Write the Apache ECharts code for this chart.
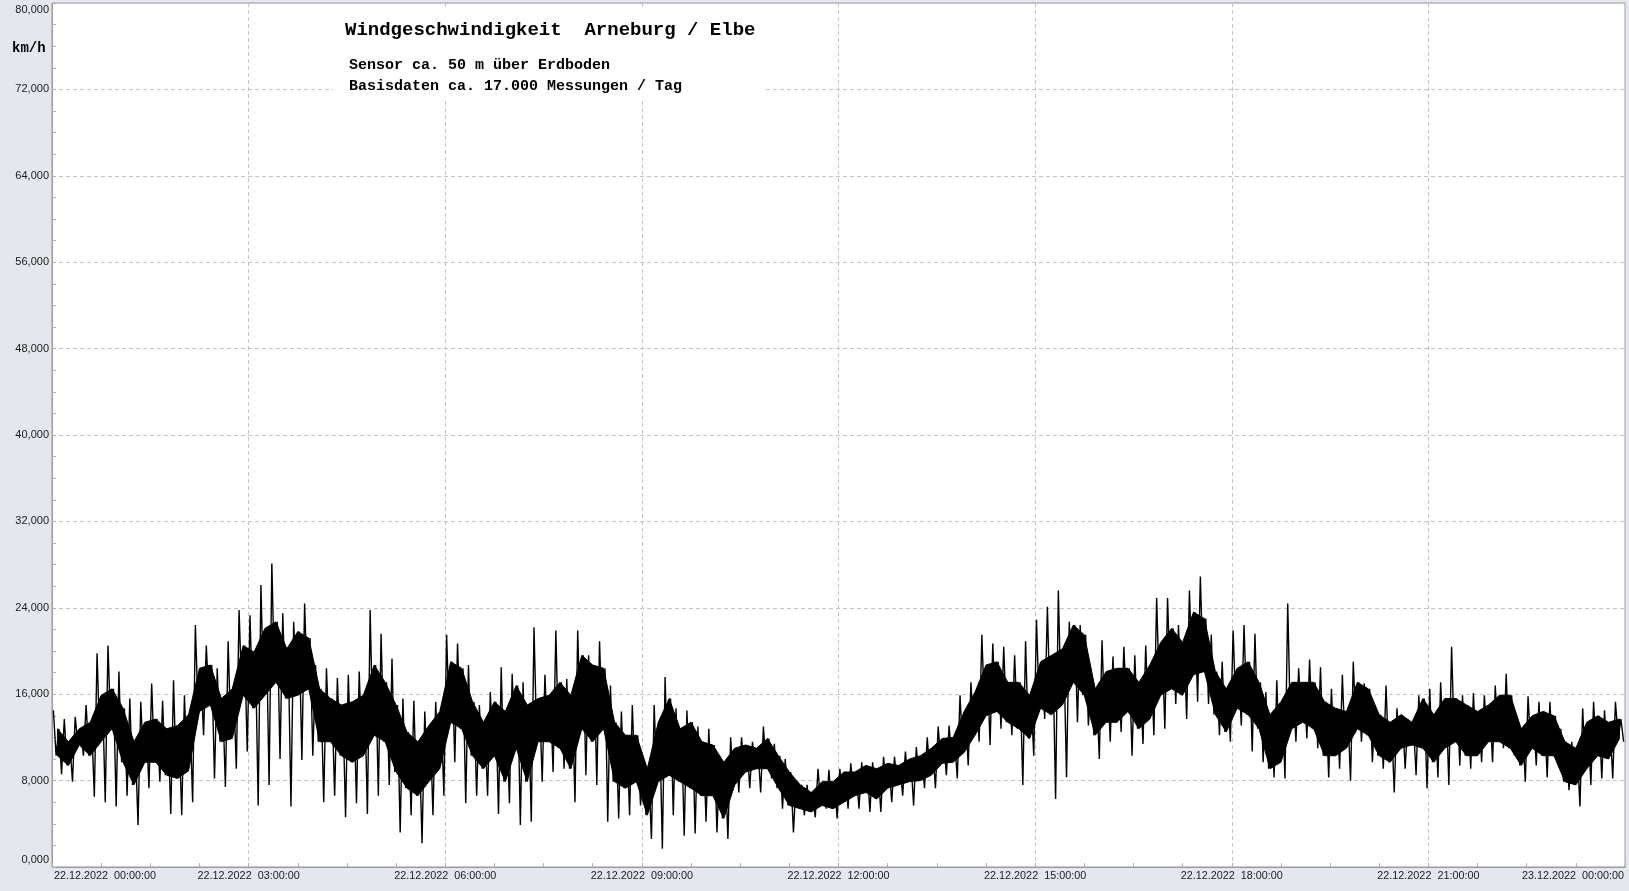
<!DOCTYPE html>
<html>
<head>
<meta charset="utf-8">
<script src="https://cdn.jsdelivr.net/npm/echarts@6/dist/echarts.min.js"></script>
<style>
html,body{margin:0;padding:0;background:#e4e7ee;}
#chart{width:1629px;height:891px;}
</style>
</head>
<body>
<div id="chart"></div>
<script>
// 10-minute slots over 22.12.2022 00:00 .. 23.12.2022 00:00 (km/h)
const slotMinutes = 10;
const peakHigh = [
14.5,13.7,13.9,15.0,19.8,20.5,18.1,15.6,15.3,17.0,15.4,17.3,15.9,22.4,20.5,18.4,20.9,23.8,23.3,26.1,28.1,23.5,22.7,24.4,18.7,18.4,17.5,17.8,18.1,
23.8,21.6,19.3,15.6,15.4,14.4,15.3,21.5,20.7,18.7,15.0,16.2,18.5,17.9,17.1,22.2,17.8,21.9,17.4,21.9,19.6,20.9,16.8,14.4,15.0,10.0,15.0,17.6,14.7,
14.5,13.0,12.8,10.3,12.0,12.0,11.6,13.0,11.4,10.0,8.0,7.6,9.1,9.0,9.1,9.6,9.7,9.7,10.2,10.2,10.7,11.1,12.0,13.0,13.1,15.9,17.1,21.5,20.7,
20.4,19.6,20.9,22.9,24.1,25.6,22.7,22.4,17.8,21.0,19.5,20.4,19.6,20.5,24.9,24.9,22.4,25.6,26.9,21.5,19.0,21.9,22.4,21.6,16.2,17.3,24.4,18.4,19.2,
18.5,16.5,17.8,19.0,17.0,15.0,16.8,14.7,13.7,15.9,16.5,17.1,20.4,15.9,16.1,15.9,16.8,17.9,13.7,15.8,15.3,15.3,12.8,11.6,14.7,15.3,14.5,15.3
];
const peakLow = [
8.6,7.9,10.3,6.5,6.0,5.6,6.6,3.9,7.3,7.9,4.9,4.8,6.0,12.2,8.2,7.4,9.1,10.7,5.7,7.6,10.0,5.6,9.9,10.3,6.0,6.6,4.6,5.9,4.9,
6.6,7.6,3.2,4.8,2.2,4.8,6.6,9.7,5.9,6.6,6.6,4.9,5.9,3.9,4.2,7.9,8.8,9.1,6.0,8.5,7.6,4.2,4.5,4.8,5.7,2.6,1.7,4.8,2.9,
3.1,4.2,3.2,2.6,6.9,7.3,6.9,8.2,5.4,3.2,4.8,4.6,5.4,4.5,5.4,5.4,5.1,5.1,6.0,6.6,5.7,7.3,7.3,8.5,8.2,9.4,11.6,11.3,12.8,
12.2,7.6,10.3,13.7,6.3,8.3,13.4,13.1,10.0,11.6,12.5,10.3,11.4,12.2,12.8,15.1,13.7,15.3,15.1,12.2,11.6,13.1,10.7,9.7,8.3,8.2,11.6,11.9,11.0,
8.3,9.1,8.0,11.6,9.7,9.1,6.9,9.1,8.5,7.3,8.3,7.6,9.4,9.1,9.7,9.7,11.0,10.3,7.9,9.4,8.3,9.7,7.1,5.6,7.6,8.2,8.2,11.6
];
const coreHigh = [
12.8,11.6,12.8,13.4,15.9,16.5,14.7,11.6,13.4,13.7,12.8,13.1,14.1,18.4,18.7,15.6,16.5,20.5,19.9,22.1,22.7,20.2,21.8,21.2,16.5,15.6,15.0,15.3,15.9,
18.7,17.1,15.0,12.5,11.6,13.1,14.4,19.0,18.4,15.3,13.4,15.3,14.4,16.8,15.0,15.6,15.9,17.1,15.9,19.6,18.7,18.4,13.4,12.2,12.2,9.1,13.4,15.6,12.8,
13.4,11.6,11.3,9.7,11.0,11.3,11.0,11.9,10.3,8.8,7.6,6.9,7.9,7.9,8.8,8.8,9.4,9.1,9.6,9.4,10.0,10.3,11.0,11.9,12.0,14.4,16.2,18.7,19.0,
17.1,17.1,15.9,19.0,19.6,20.2,22.4,21.5,16.5,18.1,18.4,18.4,17.1,18.7,20.8,22.1,20.8,23.6,23.0,18.1,16.5,18.4,19.0,17.1,14.1,15.3,17.1,17.1,17.1,
15.3,14.7,14.4,17.1,16.5,14.1,13.4,14.1,13.4,15.6,14.1,15.6,15.6,15.0,14.4,15.0,15.9,15.9,12.8,14.0,14.4,14.0,11.6,11.0,13.4,14.0,13.4,13.7
];
const coreLow = [
10.3,9.4,11.3,10.3,11.6,12.8,9.7,7.6,9.7,9.7,8.5,8.2,8.9,14.4,15.0,11.6,11.9,15.9,14.7,15.9,17.1,15.6,15.9,16.5,11.6,11.6,10.3,9.7,10.3,
12.2,11.6,8.8,7.3,6.6,7.9,9.1,13.4,12.8,10.3,9.1,10.3,7.9,11.0,7.9,11.6,11.6,11.0,9.1,12.8,11.6,12.8,7.9,7.3,7.9,4.8,7.9,8.5,7.9,
7.3,6.6,6.6,4.5,7.6,8.8,9.1,9.1,7.3,5.7,5.4,5.1,5.7,5.4,6.0,6.6,6.9,6.3,7.3,7.6,7.9,8.0,8.5,9.6,9.7,10.6,12.2,14.0,14.4,
13.4,12.8,11.9,14.7,14.1,15.0,17.1,15.9,12.2,13.4,13.4,14.4,12.8,13.7,15.9,16.5,15.9,17.8,18.1,14.1,12.5,14.7,14.1,12.8,9.1,9.7,12.8,13.4,12.8,
10.3,10.3,11.0,12.8,12.2,10.3,9.7,11.0,11.3,11.0,9.7,11.0,11.6,10.3,10.3,11.6,11.6,11.0,9.4,11.0,10.3,10.3,7.9,7.6,9.1,10.3,10.0,11.9
];
const xTickLabels = [
'22.12.2022  00:00:00','22.12.2022  03:00:00','22.12.2022  06:00:00','22.12.2022  09:00:00',
'22.12.2022  12:00:00','22.12.2022  15:00:00','22.12.2022  18:00:00','22.12.2022  21:00:00','23.12.2022  00:00:00'
];
const yTickLabels = ['0,000','8,000','16,000','24,000','32,000','40,000','48,000','56,000','64,000','72,000','80,000'];
const titleText = 'Windgeschwindigkeit  Arneburg / Elbe';
const subText1 = 'Sensor ca. 50 m über Erdboden';
const subText2 = 'Basisdaten ca. 17.000 Messungen / Tag';
const unitText = 'km/h';

const h = slotMinutes / 60;
// trace through each slot: peak high, core low, core high, peak low
const trace = [];
for (let i = 0; i < peakHigh.length; i++) {
  const t = i * h;
  trace.push([t + h * 0.125, peakHigh[i]]);
  trace.push([t + h * 0.375, coreLow[i]]);
  trace.push([t + h * 0.625, coreHigh[i]]);
  trace.push([t + h * 0.875, peakLow[i]]);
}

function renderCore(params, api) {
  const pts = [];
  for (let i = 0; i < coreHigh.length; i++) pts.push(api.coord([i * h + h * 0.5, coreHigh[i]]));
  for (let i = coreLow.length - 1; i >= 0; i--) pts.push(api.coord([i * h + h * 0.5, coreLow[i]]));
  return {type: 'polygon', shape: {points: pts}, style: {fill: '#000', stroke: '#000', lineWidth: 1}};
}

const chart = echarts.init(document.getElementById('chart'), null, {renderer: 'canvas'});
const lblFont = '"Liberation Sans", Arial, sans-serif';
const monoFont = '"Liberation Mono", "Courier New", monospace';
chart.setOption({
  animation: false,
  backgroundColor: '#e4e7ee',
  grid: {left: 52, right: 4, top: 3, bottom: 24, show: true, backgroundColor: '#ffffff', borderColor: '#9a9a9a', borderWidth: 1},
  xAxis: {
    type: 'value', min: 0, max: 24, interval: 3,
    axisLine: {show: true, lineStyle: {color: '#9a9a9a'}},
    axisTick: {show: true, inside: true, length: 4, lineStyle: {color: '#b0b0b0'}},
    minorTick: {show: true, splitNumber: 4, length: 4, lineStyle: {color: '#b0b0b0'}},
    splitLine: {show: true, lineStyle: {color: '#c4c4c4', type: [4, 3], width: 1}},
    axisLabel: {
      margin: 4, fontSize: 10.8, color: '#1a1a1a', fontFamily: lblFont,
      formatter: function (v) {
        const idx = Math.round(v / 3);
        const s = xTickLabels[idx];
        if (idx === 0) return '{first|' + s + '}';
        if (idx === xTickLabels.length - 1) return '{last|' + s + '}';
        return s;
      },
      rich: {
        first: {fontSize: 10.8, color: '#1a1a1a', fontFamily: lblFont, padding: [0, 0, 0, 106]},
        last: {fontSize: 10.8, color: '#1a1a1a', fontFamily: lblFont, padding: [0, 104, 0, 0]}
      }
    }
  },
  yAxis: {
    type: 'value', min: 0, max: 80, interval: 8,
    axisLine: {show: true, lineStyle: {color: '#9a9a9a'}},
    axisTick: {show: true, inside: true, length: 4, lineStyle: {color: '#b0b0b0'}},
    minorTick: {show: true, splitNumber: 4, length: 4, lineStyle: {color: '#b0b0b0'}},
    splitLine: {show: true, lineStyle: {color: '#c4c4c4', type: [4, 3], width: 1}},
    axisLabel: {
      margin: 3, fontSize: 11, color: '#1a1a1a', fontFamily: lblFont,
      formatter: function (v) {
        const idx = Math.round(v / 8);
        const s = yTickLabels[idx];
        if (idx === yTickLabels.length - 1) return '{top|' + s + '}';
        if (idx === 0) return '{bot|' + s + '}';
        return s;
      },
      rich: {
        top: {fontSize: 11, color: '#1a1a1a', fontFamily: lblFont, padding: [14, 0, 0, 0]},
        bot: {fontSize: 11, color: '#1a1a1a', fontFamily: lblFont, padding: [0, 0, 14, 0]}
      }
    }
  },
  series: [
    {type: 'custom', name: 'core', coordinateSystem: 'cartesian2d', renderItem: renderCore,
     data: [[0, 0]], silent: true, clip: true, z: 2},
    {type: 'line', name: 'Wind', data: trace, symbol: 'none', silent: true,
     lineStyle: {width: 1.4, color: '#000'}, z: 3}
  ],
  graphic: [
    {type: 'rect', left: 333, top: 10, shape: {width: 432, height: 88}, style: {fill: '#ffffff'}, z: 5, silent: true},
    {type: 'text', left: 345, top: 21, style: {text: titleText, font: 'bold 19px ' + monoFont, fill: '#000'}, z: 6},
    {type: 'text', left: 349, top: 58, style: {text: subText1, font: 'bold 15px ' + monoFont, fill: '#000'}, z: 6},
    {type: 'text', left: 349, top: 79, style: {text: subText2, font: 'bold 15px ' + monoFont, fill: '#000'}, z: 6},
    {type: 'text', left: 12, top: 41, style: {text: unitText, font: 'bold 14px ' + monoFont, fill: '#000'}, z: 6}
  ]
});
</script>
</body>
</html>
